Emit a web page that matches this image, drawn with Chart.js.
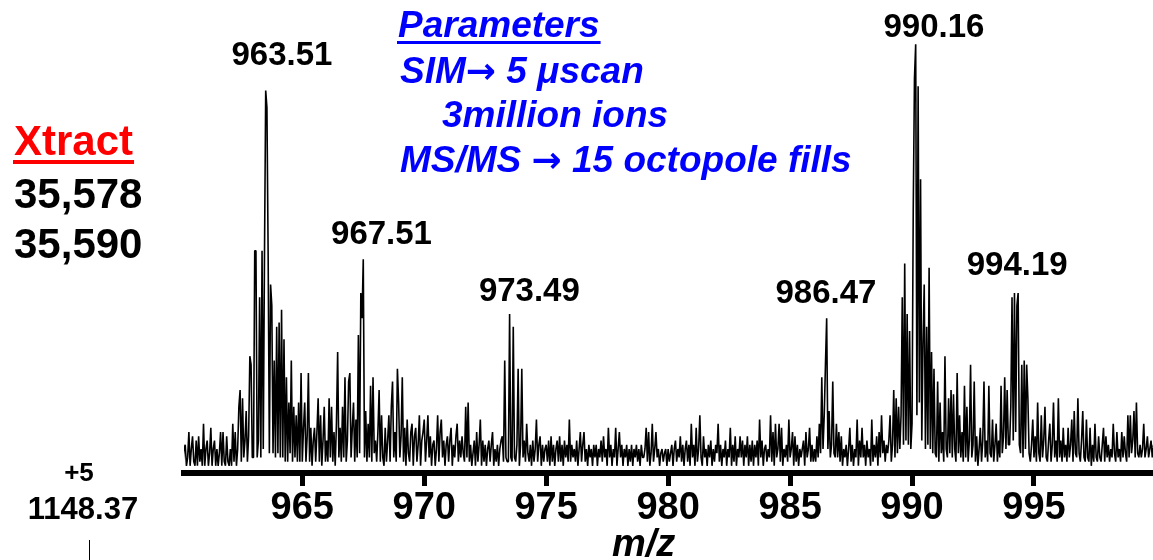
<!DOCTYPE html>
<html>
<head>
<meta charset="utf-8">
<script src="https://cdn.jsdelivr.net/npm/chart.js@4.4.1/dist/chart.umd.min.js"></script>
<style>
  html, body { margin: 0; padding: 0; background: #fff; }
  #wrap { position: relative; width: 1153px; height: 560px; overflow: hidden; }
</style>
</head>
<body>
<div id="wrap"><canvas id="spectrum" width="1153" height="560"></canvas></div>
<script>
// --- spectrum data: relative intensity (%), one row per m/z unit, sampled every 0.05 ---
const MZ_START = 960;
const MZ_STEP = 0.05;

const scan960 = [
  1, 5, 0, 4, 5, 0, 2, 8, 0, 4, 7, 1, 0, 6, 0, 7, 1, 4, 0, 10,    // 960
  0, 4, 6, 0, 3, 9, 0, 4, 6, 0, 4, 0, 3, 8, 0, 8, 1, 0, 7, 1,     // 961
  0, 4, 0, 10, 1, 8, 0, 4, 14, 18, 1, 16, 2, 6, 13, 1, 7, 26, 24, 2, // 962
  2, 51, 51, 2, 6, 40, 2, 51, 4, 50, 89, 85, 50, 3, 43, 38, 3, 25, 2, 33, // 963
  3, 34, 2, 37, 2, 30, 1, 21, 1, 15, 3, 25, 1, 14, 2, 12, 1, 15, 1, 22, // 964
  1, 9, 15, 1, 7, 22, 1, 9, 0, 6, 9, 1, 8, 16, 1, 12, 0, 6, 14, 1, // 965
  6, 1, 16, 2, 14, 1, 8, 0, 10, 27, 2, 9, 1, 14, 2, 21, 1, 6, 20, 22, // 966
  2, 9, 15, 1, 11, 2, 31, 3, 41, 35, 49, 2, 13, 1, 10, 2, 19, 1, 21, 3, // 967
  6, 1, 8, 18, 1, 12, 2, 0, 9, 1, 6, 12, 1, 14, 20, 2, 8, 1, 23, 15, // 968
  2, 7, 21, 1, 9, 0, 11, 3, 1, 8, 10, 0, 7, 9, 1, 5, 12, 0, 6, 8  // 969
];

const scan970 = [
  11, 1, 6, 12, 2, 7, 0, 5, 6, 0, 4, 12, 1, 8, 11, 2, 6, 0, 5, 7, // 970
  1, 6, 9, 0, 5, 2, 7, 10, 1, 6, 2, 7, 3, 1, 14, 2, 15, 1, 5, 0,  // 971
  3, 6, 0, 8, 1, 5, 11, 0, 6, 1, 5, 0, 4, 6, 1, 5, 8, 0, 4, 1,    // 972
  5, 0, 4, 6, 7, 1, 25, 2, 1, 1, 36, 2, 1, 33, 2, 1, 5, 23, 0, 5, // 973
  23, 2, 6, 1, 10, 3, 1, 5, 0, 6, 1, 4, 11, 1, 5, 7, 0, 5, 1, 4,  // 974
  5, 1, 6, 0, 7, 1, 5, 0, 4, 6, 1, 7, 1, 5, 0, 6, 2, 5, 1, 11,    // 975
  1, 5, 2, 4, 1, 6, 0, 4, 8, 1, 5, 8, 1, 4, 0, 5, 2, 4, 0, 5,     // 976
  2, 5, 0, 4, 2, 6, 1, 7, 2, 4, 0, 9, 2, 5, 0, 4, 2, 9, 0, 4,     // 977
  8, 2, 5, 0, 4, 2, 5, 0, 4, 1, 5, 0, 4, 2, 5, 1, 4, 0, 5, 2,     // 978
  2, 4, 9, 1, 8, 0, 3, 10, 1, 4, 8, 2, 4, 0, 3, 4, 1, 3, 4, 0     // 979
];

const scan980 = [
  4, 1, 3, 5, 0, 4, 6, 1, 4, 2, 7, 1, 5, 0, 4, 6, 1, 5, 0, 10,    // 980
  2, 5, 0, 9, 1, 4, 12, 2, 0, 7, 2, 4, 0, 5, 2, 6, 0, 4, 1, 5,    // 981
  3, 10, 1, 5, 0, 4, 2, 6, 0, 4, 2, 9, 0, 5, 1, 7, 0, 4, 2, 7,    // 982
  2, 6, 0, 5, 2, 7, 0, 5, 1, 6, 0, 5, 2, 6, 0, 11, 2, 6, 0, 4,    // 983
  5, 1, 4, 2, 12, 1, 8, 0, 10, 2, 4, 10, 1, 9, 0, 4, 2, 5, 1, 11, // 984
  2, 4, 8, 0, 7, 1, 5, 0, 4, 2, 4, 6, 0, 8, 2, 4, 9, 1, 5, 1,     // 985
  4, 1, 7, 2, 10, 3, 21, 4, 12, 24, 35, 4, 13, 2, 5, 20, 3, 2, 10, 2, // 986
  8, 1, 7, 0, 4, 2, 5, 0, 4, 9, 1, 5, 0, 4, 2, 11, 0, 6, 2, 9,    // 987
  2, 5, 0, 6, 2, 4, 0, 11, 1, 5, 2, 7, 0, 8, 2, 12, 3, 6, 1, 5,   // 988
  3, 6, 12, 1, 5, 18, 2, 16, 3, 14, 4, 12, 40, 5, 48, 6, 36, 5, 32, 4 // 989
];

const scan990 = [
  10, 61, 92, 100, 12, 90, 15, 68, 6, 29, 43, 4, 33, 5, 47, 4, 27, 3, 23, 3, // 990
  2, 20, 1, 15, 3, 8, 1, 26, 4, 2, 16, 3, 18, 2, 17, 4, 1, 22, 3, 12,  // 991
  2, 8, 1, 19, 2, 14, 1, 6, 24, 2, 5, 20, 1, 7, 0, 4, 9, 1, 6, 20,     // 992
  2, 6, 1, 19, 3, 2, 11, 1, 5, 10, 1, 6, 2, 19, 3, 7, 21, 4, 18, 5,    // 993
  5, 14, 40, 6, 41, 8, 38, 41, 5, 3, 24, 2, 25, 4, 24, 16, 3, 1, 5, 11, // 994
  2, 7, 1, 15, 3, 1, 12, 2, 6, 14, 2, 1, 6, 10, 1, 5, 15, 2, 6, 1,     // 995
  16, 2, 6, 1, 9, 2, 5, 1, 9, 2, 5, 11, 1, 13, 3, 2, 16, 3, 1, 6,      // 996
  13, 2, 1, 11, 2, 1, 9, 0, 5, 1, 10, 2, 1, 7, 2, 1, 5, 9, 1, 7,       // 997
  2, 5, 1, 4, 2, 10, 3, 1, 8, 2, 4, 1, 8, 2, 7, 3, 1, 12, 2, 12,       // 998
  3, 6, 13, 2, 15, 3, 2, 5, 2, 4, 10, 2, 4, 7, 2, 4, 6, 2, 5, 3        // 999
];

const peakLabels = [963.51, 967.51, 973.49, 986.47, 990.16, 994.19];
const xTicks = [965, 970, 975, 980, 985, 990, 995];

// --- layout ---
const FONT = '"Liberation Sans", Arial, Helvetica, sans-serif';
const ARROW_FONT = 'bold 36px "DejaVu Sans", sans-serif';
const BLUE = `italic bold 37px ${FONT}`;
// label nudges [dx, dy] from each peak top
const labelShift = [[16, 26], [18, 15], [20, 13], [0, 15], [18, 7], [3, 18]];

const intensity = [...scan960, ...scan970, ...scan980, ...scan990];
const points = intensity.map((v, i) => ({ x: MZ_START + i * MZ_STEP, y: v }));

// side notes drawn on the canvas; each note is a list of [text, font] runs
const notes = [
  { runs: [["Xtract", `bold 42px ${FONT}`]], x: 14, y: 155, color: "#ff0000", underline: [160, 4] },
  { runs: [["35,578", `bold 42px ${FONT}`]], x: 14, y: 208, color: "#000" },
  { runs: [["35,590", `bold 42px ${FONT}`]], x: 14, y: 258, color: "#000" },
  { runs: [["Parameters", BLUE]], x: 398, y: 37, color: "#0000ff", underline: [41, 3] },
  { runs: [["SIM", BLUE], ["\u2192", ARROW_FONT], [" 5 \u03bcscan", BLUE]], x: 400, y: 83, color: "#0000ff" },
  { runs: [["3million ions", BLUE]], x: 442, y: 127, color: "#0000ff" },
  { runs: [["MS/MS ", BLUE], ["\u2192", ARROW_FONT], [" 15 octopole fills", BLUE]], x: 400, y: 172, color: "#0000ff" },
  { runs: [["+5", `bold 26px ${FONT}`]], x: 79, y: 481, color: "#000", center: true },
  { runs: [["1148.37", `bold 31px ${FONT}`]], x: 83, y: 519, color: "#000", center: true },
  { runs: [["m/z", `italic bold 38px ${FONT}`]], x: 612, y: 556, color: "#000" }
];

const notesPlugin = {
  id: "notes",
  afterDraw(chart) {
    const ctx = chart.ctx;
    ctx.save();
    ctx.textBaseline = "alphabetic";
    ctx.textAlign = "left";
    notes.forEach(n => {
      ctx.fillStyle = n.color;
      const widths = n.runs.map(([t, f]) => { ctx.font = f; return ctx.measureText(t).width; });
      const total = widths.reduce((a, b) => a + b, 0);
      let cx = n.center ? n.x - total / 2 : n.x;
      n.runs.forEach(([t, f], i) => {
        ctx.font = f;
        ctx.fillText(t, cx, n.y);
        cx += widths[i];
      });
      if (n.underline) ctx.fillRect(n.x - 1, n.underline[0], total + 2, n.underline[1]);
    });
    // stub of the neighbouring trace
    ctx.strokeStyle = "#000";
    ctx.lineWidth = 1;
    ctx.beginPath();
    ctx.moveTo(89.5, 540);
    ctx.lineTo(89.5, 560);
    ctx.stroke();
    ctx.restore();
  }
};

const peakLabelPlugin = {
  id: "peakLabels",
  afterDatasetsDraw(chart) {
    const { ctx, scales: { x, y } } = chart;
    ctx.save();
    ctx.font = `bold 33px ${FONT}`;
    ctx.fillStyle = "#000";
    ctx.textAlign = "center";
    ctx.textBaseline = "alphabetic";
    peakLabels.forEach((mz, k) => {
      const top = Math.max(...points.filter(p => Math.abs(p.x - mz) <= 0.1).map(p => p.y));
      const [dx, dy] = labelShift[k];
      ctx.fillText(mz.toFixed(2), x.getPixelForValue(mz) + dx, y.getPixelForValue(top) - dy);
    });
    ctx.restore();
  }
};

const canvas = document.getElementById("spectrum");

new Chart(canvas, {
  type: "line",
  data: {
    datasets: [{
      data: points,
      borderColor: "#000",
      borderWidth: 1.6,
      borderJoinStyle: "bevel",
      pointRadius: 0,
      tension: 0,
      fill: false
    }]
  },
  options: {
    responsive: false,
    animation: false,
    devicePixelRatio: 1,
    layout: { padding: { left: 184, right: 0, top: 40, bottom: 0 } },
    plugins: {
      legend: { display: false },
      tooltip: { enabled: false }
    },
    scales: {
      x: {
        type: "linear",
        min: 960.15,
        max: 999.88,
        afterFit: s => { s.height = 87; },
        afterBuildTicks: s => { s.ticks = xTicks.map(v => ({ value: v })); },
        grid: { drawOnChartArea: false, drawTicks: true, tickLength: 13, tickWidth: 5, tickColor: "#000" },
        border: { display: true, width: 6, color: "#000" },
        ticks: {
          color: "#000",
          font: { family: FONT, size: 38, weight: "bold" },
          padding: 0,
          maxRotation: 0,
          autoSkip: false,
          callback: v => String(v)
        }
      },
      y: { display: false, min: -1.7, max: 101 }
    }
  },
  plugins: [peakLabelPlugin, notesPlugin]
});
</script>
</body>
</html>
